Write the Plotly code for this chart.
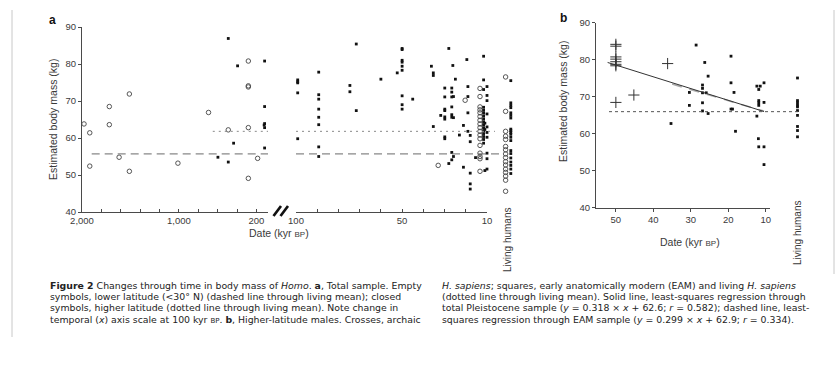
import plotly.graph_objects as go

W, H = 840, 366
def px(x): return x / W
def py(y): return 1 - y / H

FONT = "Liberation Sans"
CAPFONT = "DejaVu Sans"
TXT = "#3a3a3a"
AX = "#4a4a4a"

# ---------------- Panel a data ----------------
# left segment (2,000 - 100 kyr BP, linear)
a_left_low_kyr = [1979, 1920, 1920, 1718, 1718, 1617, 1511, 1511, 1010, 694, 490,
                  283, 283, 283, 283, 283, 187]
a_left_low_kg = [63.8, 61.4, 52.4, 68.5, 63.6, 54.8, 71.9, 51.0, 53.2, 66.9, 62.2,
                 80.8, 74.1, 73.8, 62.8, 49.1, 54.5]
a_left_high_kyr = [490, 394, 435, 597, 490, 115, 115, 115, 120, 115, 115]
a_left_high_kg = [86.9, 79.5, 58.6, 54.8, 53.5, 80.8, 68.5, 63.9, 63.5, 62.8, 57.3]

# right segment (100 - 10 kyr BP)
a_right_high_kyr = [99.2, 99.2, 99.2, 99.2, 99.2,
                    89.3, 89.3, 89.3, 89.3, 89.3, 89.3, 89.3, 89.3,
                    74.6, 74.6, 71.6, 71.6, 60.0, 52.3,
                    50, 50, 50, 50, 50, 50, 50, 50, 50,
                    45.0, 36.2, 35.3, 35.3, 35.3, 31.8,
                    29.9, 29.9, 29.9, 29.9, 29.9, 29.9, 29.9, 29.9,
                    28.0, 28.0,
                    26.6, 26.6, 26.6, 26.6, 26.6, 26.6, 26.6, 26.6,
                    25.8, 25.8, 25.8, 26.1, 24.9, 23.0, 21.1, 21.1, 19.5,
                    19.0, 19.0, 19.0, 19.0,
                    17.9, 17.9, 17.9, 17.9, 17.9, 15.4,
                    11.6, 11.6, 11.6, 11.6, 11.6, 11.6, 11.6, 11.6, 11.6, 11.6, 11.6, 11.6,
                    11.6, 11.6, 11.6, 11.6,
                    10.0, 10.0, 10.0, 10.0, 10.0, 10.0, 10.0, 10.0, 10.0, 10.0,
                    11.0, 11.0, 11.0]
a_right_high_kg = [75.7, 75.2, 74.9, 72.2, 59.8,
                   77.8, 71.7, 70.5, 67.8, 65.6, 63.6, 57.6, 55.0,
                   74.2, 72.5, 85.4, 67.4, 75.9, 77.6,
                   84.2, 83.9, 81.0, 80.5, 79.4, 78.3, 71.4, 69.0, 67.8,
                   70.5, 79.4, 77.6, 76.9, 63.1, 66.1,
                   73.5, 71.1, 67.8, 67.4, 65.7, 65.1, 60.3, 59.8,
                   84.2, 53.1,
                   73.5, 72.4, 71.1, 68.4, 66.3, 65.6, 56.1, 54.1,
                   71.2, 65.5, 55.0, 79.6, 75.9, 60.8, 63.4, 52.1, 81.2,
                   73.9, 71.2, 66.8, 61.8,
                   60.7, 59.0, 50.5, 47.6, 46.2, 54.7,
                   82.1, 75.7, 73.1, 68.3, 67.5, 66.8, 66.0, 65.2, 64.4, 63.6, 62.8, 62.0,
                   61.2, 60.4, 59.6, 58.6,
                   73.9, 71.5, 70.1, 66.5, 63.0, 61.5, 60.2, 55.9, 54.4, 51.6,
                   51.2, 64.0, 62.3]
a_right_low_kyr = [33.0, 20.3,
                   13.3, 13.3, 13.3, 13.3, 13.3, 13.3, 13.3, 13.3, 13.3, 13.3, 13.3, 13.3,
                   13.3, 13.3, 13.3, 13.3, 13.3]
a_right_low_kg = [52.6, 70.2,
                  73.4, 71.2, 68.4, 67.6, 66.8, 65.8, 64.8, 63.8, 62.8, 61.8, 60.8, 59.8,
                  58.0, 55.9, 55.0, 54.4, 51.0]

# living humans, panel a
a_living_low_kg = [76.5, 67.2, 61.8, 60.5, 59.6, 57.7, 56.8, 55.7, 54.7, 53.6, 52.7,
                   51.6, 50.7, 49.7, 48.6, 45.6]
a_living_high_kg = [75.5, 69.5, 68.8, 68.2, 66.8, 66.1, 65.4, 62.4, 62.0, 61.5, 61.0,
                    60.2, 59.3, 56.6, 55.8, 54.6, 53.5, 52.6, 51.6, 50.4]

a_low_living_mean = 55.7
a_high_living_mean = 61.8

# ---------------- Panel b data ----------------
b_archaic_kyr = [50, 50, 50, 50, 50, 50, 50, 50, 45.2, 36.2]
b_archaic_kg = [84.1, 83.6, 80.7, 80.1, 79.4, 78.7, 78.3, 68.4, 70.4, 78.9]
b_eam_kyr = [28.6, 35.3, 30.4, 30.4, 26.9, 26.9, 26.9, 26.9, 26.9, 26.3, 25.9,
             25.4, 25.4, 19.3, 19.3, 19.3, 18.9, 18.5, 18.1, 12.4, 12.4, 11.5,
             11.9, 11.9, 11.9, 11.9, 11.9, 12.0, 10.5, 10.5, 10.5, 10.5]
b_eam_kg = [83.9, 62.7, 71.1, 67.6, 73.1, 72.2, 71.0, 68.3, 66.1, 79.2, 71.0,
            75.5, 65.4, 80.9, 73.7, 66.6, 66.6, 71.1, 60.6, 72.8, 64.7, 72.8,
            71.9, 68.9, 68.3, 67.6, 56.4, 58.6, 73.7, 68.4, 56.4, 51.6]
b_living_kg = [75.0, 68.9, 68.3, 67.6, 67.2, 66.2, 64.9, 61.9, 60.8, 59.1]
b_living_mean = 65.9

reg_total = dict(slope=0.318, intercept=62.6, x_from=52.2, x_to=10.5)
reg_eam = dict(slope=0.299, intercept=62.9, x_from=35.0, x_to=10.5)

# ---------------- figure ----------------
open_marker = dict(symbol="circle-open", size=4.5, color="#444", line=dict(width=0.9, color="#444"))
dot_marker = dict(symbol="square", size=2.8, color="#111", line=dict(width=0))
cross_marker = dict(symbol="cross-thin-open", size=8, color="#333", line=dict(width=1, color="#333"))

fig = go.Figure()
fig.add_trace(go.Scatter(x=a_left_low_kyr, y=a_left_low_kg, mode="markers", marker=open_marker,
                         xaxis="x", yaxis="y", cliponaxis=False))
fig.add_trace(go.Scatter(x=a_left_high_kyr, y=a_left_high_kg, mode="markers", marker=dot_marker,
                         xaxis="x", yaxis="y", cliponaxis=False))
fig.add_trace(go.Scatter(x=a_right_low_kyr, y=a_right_low_kg, mode="markers", marker=open_marker,
                         xaxis="x2", yaxis="y", cliponaxis=False))
fig.add_trace(go.Scatter(x=a_right_high_kyr, y=a_right_high_kg, mode="markers", marker=dot_marker,
                         xaxis="x2", yaxis="y", cliponaxis=False))
fig.add_trace(go.Scatter(x=[-0.3] * len(a_living_low_kg), y=a_living_low_kg, mode="markers",
                         marker=open_marker, xaxis="x3", yaxis="y", cliponaxis=False))
fig.add_trace(go.Scatter(x=[0.35] * len(a_living_high_kg), y=a_living_high_kg, mode="markers",
                         marker=dot_marker, xaxis="x3", yaxis="y", cliponaxis=False))

# panel b
fig.add_trace(go.Scatter(x=b_archaic_kyr, y=b_archaic_kg, mode="markers", marker=cross_marker,
                         xaxis="x4", yaxis="y2", cliponaxis=False))
fig.add_trace(go.Scatter(x=b_eam_kyr, y=b_eam_kg, mode="markers", marker=dot_marker,
                         xaxis="x4", yaxis="y2", cliponaxis=False))
fig.add_trace(go.Scatter(x=[0] * len(b_living_kg), y=b_living_kg, mode="markers", marker=dot_marker,
                         xaxis="x5", yaxis="y2", cliponaxis=False))
for reg, col, dash, wd in [(reg_eam, "#a8a8a8", "10px,8px", 1.6), (reg_total, "#333", "solid", 1)]:
    xs = [reg["x_from"], reg["x_to"]]
    ys = [reg["slope"] * v + reg["intercept"] for v in xs]
    fig.add_trace(go.Scatter(x=xs, y=ys, mode="lines", line=dict(color=col, width=wd, dash=dash),
                             xaxis="x4", yaxis="y2", cliponaxis=False))

tickfont = dict(family=FONT, size=9.5, color=TXT)
common = dict(showgrid=False, zeroline=False, showline=True, linecolor=AX, linewidth=1,
              tickfont=tickfont, tickcolor=AX, tickwidth=1, automargin=False)
hidden = dict(showgrid=False, zeroline=False, showline=False, showticklabels=False, ticks="",
              automargin=False)

fig.update_layout(
    template="none",
    width=W, height=H, margin=dict(l=0, r=0, t=0, b=0, pad=0),
    paper_bgcolor="white", plot_bgcolor="rgba(0,0,0,0)", showlegend=False,
    hovermode=False,
    font=dict(family=FONT, color=TXT),
    xaxis=dict(domain=[px(82), px(268)], range=[2000, 80], anchor="y",
               tickmode="array", tickvals=[2000, 1000, 200], ticktext=["2,000", "1,000", "200"],
               ticks="inside", ticklen=3,
               minor=dict(tickmode="array", tickvals=[1800, 1600, 1400, 1200, 800, 600, 400],
                          ticks="inside", ticklen=3, tickcolor=AX),
               **common),
    yaxis=dict(domain=[py(212), py(27)], range=[40, 90], anchor="x",
               tickmode="array", tickvals=[40, 50, 60, 70, 80, 90], ticks="outside", ticklen=3,
               **common),
    xaxis2=dict(domain=[px(296), px(487)], range=[100, 10], anchor="y",
                tickmode="array", tickvals=[100, 50, 10], ticks="inside", ticklen=3,
                minor=dict(tickmode="array", tickvals=[90, 80, 70, 60, 40, 30, 20],
                           ticks="inside", ticklen=3, tickcolor=AX),
                **common),
    xaxis3=dict(domain=[px(500), px(516)], range=[-1, 1], anchor="y", **hidden),
    xaxis4=dict(domain=[px(596), px(770)], range=[55.3, 8.9], anchor="y2",
                tickmode="array", tickvals=[50, 40, 30, 20, 10], ticks="outside", ticklen=3,
                **common),
    yaxis2=dict(domain=[py(207.5), py(22.5)], range=[40, 90], anchor="x4",
                tickmode="array", tickvals=[40, 50, 60, 70, 80, 90], ticks="outside", ticklen=3,
                **common),
    xaxis5=dict(domain=[px(790), px(805)], range=[-1, 1], anchor="y2", **hidden),
)

# mean lines
shapes = []
dashed = dict(color="#6a6a6a", width=1, dash="8px,5px")
dotted = dict(color="#8a8a8a", width=1, dash="2px,4px")
shapes.append(dict(type="line", xref="x", yref="y", x0=1900, x1=80,
                   y0=a_low_living_mean, y1=a_low_living_mean, line=dashed))
shapes.append(dict(type="line", xref="paper", yref="y", x0=px(296), x1=px(499),
                   y0=a_low_living_mean, y1=a_low_living_mean, line=dashed))
shapes.append(dict(type="line", xref="x", yref="y", x0=650, x1=80,
                   y0=a_high_living_mean, y1=a_high_living_mean, line=dotted))
shapes.append(dict(type="line", xref="paper", yref="y", x0=px(296), x1=px(495),
                   y0=a_high_living_mean, y1=a_high_living_mean, line=dotted))
shapes.append(dict(type="line", xref="paper", yref="y2", x0=px(609), x1=px(800),
                   y0=b_living_mean, y1=b_living_mean, line=dict(color="#555", width=1, dash="3px,3px")))
# axis break marks
for x0 in (273.5, 280.5):
    shapes.append(dict(type="line", xref="paper", yref="paper", x0=px(x0), y0=py(216),
                       x1=px(x0 + 7.5), y1=py(206), line=dict(color="#111", width=2.6)))
# scan page edges
shapes.append(dict(type="line", xref="paper", yref="paper", x0=px(12), x1=px(12), y0=py(10), y1=py(337),
                   line=dict(color="#c8c8c8", width=1)))
shapes.append(dict(type="line", xref="paper", yref="paper", x0=px(834), x1=px(834), y0=py(10), y1=py(274),
                   line=dict(color="#c8c8c8", width=1)))
fig.update_layout(shapes=shapes)

ann = []
def text(x, y, s, size=10.5, angle=0, xanchor="center", color=TXT, yanchor="middle", family=FONT):
    ann.append(dict(xref="paper", yref="paper", x=px(x), y=py(y), text=s, showarrow=False,
                    textangle=angle, xanchor=xanchor, yanchor=yanchor,
                    font=dict(family=family, size=size, color=color)))

text(52, 20, "<b>a</b>", size=12, color="#111")
text(563, 18, "<b>b</b>", size=12, color="#111")
text(53, 120, "Estimated body mass (kg)", angle=-90)
text(563, 102, "Estimated body mass (kg)", angle=-90)
text(279, 233, "Date (kyr <span style='font-size:8px'>BP</span>)")
text(690, 242, "Date (kyr <span style='font-size:8px'>BP</span>)")
text(508, 240, "Living humans", angle=-90, size=10)
text(797, 233, "Living humans", angle=-90, size=10)

cap_left = [
    "<b>Figure 2</b> Changes through time in body mass of <i>Homo</i>. <b>a</b>, Total sample. Empty",
    "symbols, lower latitude (&lt;30° N) (dashed line through living mean); closed",
    "symbols, higher latitude (dotted line through living mean). Note change in",
    "temporal (<i>x</i>) axis scale at 100 kyr <span style='font-size:7px'>BP</span>. <b>b</b>, Higher-latitude males. Crosses, archaic",
]
cap_right = [
    "<i>H. sapiens</i>; squares, early anatomically modern (EAM) and living <i>H. sapiens</i>",
    "(dotted line through living mean). Solid line, least-squares regression through",
    "total Pleistocene sample (<i>y</i> = 0.318 × <i>x</i> + 62.6; <i>r</i> = 0.582); dashed line, least-",
    "squares regression through EAM sample (<i>y</i> = 0.299 × <i>x</i> + 62.9; <i>r</i> = 0.334).",
]
for i, s in enumerate(cap_left):
    text(48, 285 + i * 11.4, s, size=9.35, xanchor="left", color="#222", family=CAPFONT)
for i, s in enumerate(cap_right):
    text(440, 285 + i * 11.4, s, size=9.35, xanchor="left", color="#222", family=CAPFONT)

fig.update_layout(annotations=ann)
fig.write_html("out.html", config={"displayModeBar": False, "staticPlot": True},
               post_script="document.body.style.margin='0px';")
